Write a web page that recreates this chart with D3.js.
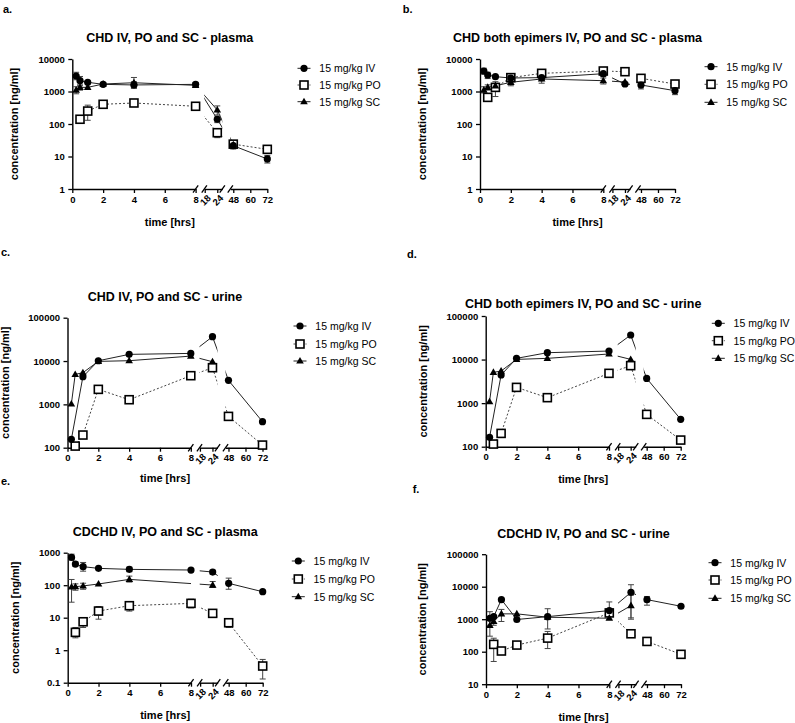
<!DOCTYPE html>
<html><head><meta charset="utf-8">
<script src="https://cdn.jsdelivr.net/npm/d3@7"></script>
<style>body{margin:0;background:#fff}</style>
</head><body>
<script>
// ---------- data ----------
const times = [0.25, 0.5, 1, 2, 4, 8, 24, 48, 72];
const xTicks1 = [0, 2, 4, 6, 8];
const xTicks2 = [18, 24];
const xTicks3 = [48, 60, 72];
const seriesNames = ["15 mg/kg IV", "15 mg/kg PO", "15 mg/kg SC"];
const panelLetters = ["a.", "b.", "c.", "d.", "e.", "f."];
const titles = ["CHD IV, PO and SC - plasma", "CHD both epimers IV, PO and SC - plasma",
  "CHD IV, PO and SC - urine", "CHD both epimers IV, PO and SC - urine",
  "CDCHD IV, PO and SC - plasma", "CDCHD IV, PO and SC - urine"];
const yTicksA = [1, 10, 100, 1000, 10000];
const yTicksB = [1, 10, 100, 1000, 10000];
const yTicksC = [100, 1000, 10000, 100000];
const yTicksD = [100, 1000, 10000, 100000];
const yTicksE = [0.1, 1, 10, 100, 1000];
const yTicksF = [10, 100, 1000, 10000, 100000];

// panel a
const aIV   = [3000, 2150, 1920, 1660, 1590, 1660, 140, 21.5, 8.4];
const aIVlo = [2300, 1500, 1700, 1450, 1250, 1450, 110, 17, 6.3];
const aIVhi = [3900, 2900, 2100, 1900, 2000, 1900, 175, 27, 10.8];
const aPO   = [null, 140, 250, 404, 443, 351, 54, 24, 16.6];
const aPOlo = [null, null, 130, 370, 400, 300, 38, 19, 14];
const aPOhi = [null, null, 380, 440, 490, 400, 68, 27, 19];
const aSC   = [1110, 1340, 1340, 1700, 1860, 1550, 270, 23, null];
const aSClo = [850, 1100, null, 1500, 1300, 1400, 190, null, null];
const aSChi = [1400, 1600, null, 1900, 2700, 1700, 360, null, null];
// panel b
const bIV   = [4270, 3220, 2860, 2600, 2670, 3530, 1700, 1585, 1060];
const bIVlo = [3400, 2500, null, null, null, 2900, null, 1200, 800];
const bIVhi = [5200, 3900, null, null, null, 4300, null, 2100, 1350];
const bPO   = [null, 660, 1340, 2670, 3620, 4270, 4070, 2540, 1700];
const bPOlo = [null, 550, 700, 2300, 3200, 3600, null, null, null];
const bPOhi = [null, 800, 2000, 3000, 4000, 4800, null, null, null];
const bSC   = [1110, 1340, 1500, 1920, 2430, 2150, 1950, null, null];
const bSClo = [900, 1100, null, 1500, 1800, 1700, null, null, null];
const bSChi = [1400, 1600, null, 2200, 3300, 2600, null, null, null];
// panel c
const cIV = [156, null, 4340, 10150, 14250, 15000, 36500, 3580, 398];
const cPO = [null, 109, 196, 2220, 1280, 4590, 7020, 528, 115];
const cSC = [1020, 4920, 5380, 9820, 10180, 13000, 9650, null, null];
// panel d
const dIV = [164, null, 4420, 10660, 14380, 15700, 36600, 3700, 425];
const dPO = [null, 115, 202, 2300, 1335, 4830, 7250, 552, 142];
const dSC = [1080, 5090, 5460, 10100, 10660, 13430, 10100, null, null];
// panel e
const eIV   = [718, 448, 371, 330, 307, 293, 254, 114, 63];
const eIVlo = [600, 380, 270, null, 260, 260, 220, 75, null];
const eIVhi = [900, 520, 500, null, 360, 330, 290, 165, null];
const ePO   = [null, 3.54, 7.5, 16, 23.4, 27.6, 13.6, 7, 0.326];
const ePOlo = [null, 2.4, 5, 9, 16, 20, 11, 5, 0.13];
const ePOhi = [null, 5, 10, 22, 30, 37, 17, 9, 0.52];
const eSC   = [88, 90, 95, 109, 151, null, 101, null, null];
const eSClo = [30, 70, 75, null, 125, null, 85, null, null];
const eSChi = [150, 110, 115, null, 190, null, 130, null, null];
// panel f
const fIV   = [1070, 1210, 4000, 980, 1200, 1840, 6700, 4000, 2500];
const fIVlo = [650, null, null, null, 500, 1000, 1100, 2700, null];
const fIVhi = [1700, null, null, null, 2100, 3400, 11500, 5000, null];
const fPO   = [null, 168, 105, 160, 262, 1560, 356, 207, 83];
const fPOlo = [null, 50, null, null, 125, null, null, null, null];
const fPOhi = [null, 260, null, null, 420, null, null, null, null];
const fSC   = [640, 850, 1460, 1460, 1150, 1070, 2620, null, null];
const fSClo = [300, 650, 850, null, null, null, 1000, null, null];
const fSChi = [1000, 1100, 2000, null, null, null, 5500, null, null];

// ---------- layout (positions only) ----------
const geo = [
  {x0: 72.3, top: 59, bot: 189, letter: [3, 13.3], titleY: 42.3, ylabX: 18, xlabY: 225.7, legX: 304, legY: [68.3, 85, 101.7]},
  {x0: 480, top: 59, bot: 189, letter: [402.7, 13.3], titleY: 42.3, ylabX: 425.5, xlabY: 225.7, legX: 711, legY: [66.7, 84.3, 102.3]},
  {x0: 67.5, top: 317.7, bot: 447.7, letter: [1, 256], titleY: 300.5, ylabX: 9, xlabY: 482.3, legX: 300, legY: [326, 344, 361]},
  {x0: 485.7, top: 316, bot: 446.7, letter: [407, 258], titleY: 307.8, ylabX: 427, xlabY: 483, legX: 718.3, legY: [323.3, 340.7, 358.3]},
  {x0: 67.7, top: 552.7, bot: 682.7, letter: [1, 484.5], titleY: 536.2, ylabX: 18.5, xlabY: 719, legX: 298.3, legY: [561, 579, 596.7]},
  {x0: 486, top: 554.2, bot: 684.2, letter: [412.7, 493], titleY: 537.8, ylabX: 426, xlabY: 721.3, legX: 715, legY: [562.7, 580, 598.3]}
];

const panels = [
  {yTicks: yTicksA, IV: [aIV, aIVlo, aIVhi], PO: [aPO, aPOlo, aPOhi], SC: [aSC, aSClo, aSChi]},
  {yTicks: yTicksB, IV: [bIV, bIVlo, bIVhi], PO: [bPO, bPOlo, bPOhi], SC: [bSC, bSClo, bSChi]},
  {yTicks: yTicksC, IV: [cIV], PO: [cPO], SC: [cSC]},
  {yTicks: yTicksD, IV: [dIV], PO: [dPO], SC: [dSC]},
  {yTicks: yTicksE, IV: [eIV, eIVlo, eIVhi], PO: [ePO, ePOlo, ePOhi], SC: [eSC, eSClo, eSChi]},
  {yTicks: yTicksF, IV: [fIV, fIVlo, fIVhi], PO: [fPO, fPOlo, fPOhi], SC: [fSC, fSClo, fSChi]}
];

const FONT = "'Liberation Sans', Arial, Helvetica, sans-serif";
const svg = d3.select("body").append("svg").attr("width", 795).attr("height", 723)
  .style("font-family", FONT);
const defs = svg.append("defs");

function marker(sel, type, cx, cy) {
  if (type === "IV") sel.append("circle").attr("cx", cx).attr("cy", cy).attr("r", 3.6).attr("fill", "#000");
  else if (type === "PO") sel.append("rect").attr("x", cx - 4).attr("y", cy - 4).attr("width", 8).attr("height", 8)
    .attr("fill", "#fff").attr("stroke", "#000").attr("stroke-width", 1.6);
  else sel.append("path").attr("d", `M${cx},${cy - 4}L${cx + 3.8},${cy + 2.6}L${cx - 3.8},${cy + 2.6}Z`).attr("fill", "#000");
}
function styleAxis(a) {
  a.selectAll(".domain").attr("stroke", "#000").attr("stroke-width", 1.4);
  a.selectAll(".tick line").attr("stroke", "#000").attr("stroke-width", 1.3);
  a.selectAll("text").attr("fill", "#000").style("font-size", "9.5px").style("font-weight", "bold").style("font-family", FONT);
}

panels.forEach((p, i) => {
  const G = geo[i];
  const {x0, top, bot} = G;
  const g = svg.append("g");
  const s1 = d3.scaleLinear().domain([0, 8]).range([x0, x0 + 123.3]);
  const s2 = d3.scaleLinear().domain([17.8, 26.4]).range([x0 + 132, x0 + 150]);
  const s3 = d3.scaleLinear().domain([45.9, 72]).range([x0 + 158, x0 + 195]);
  const x = t => t <= 8 ? s1(t) : (t <= 30 ? s2(t) : s3(t));
  const yd = d3.extent(p.yTicks);
  const y = d3.scaleLog().domain(yd).range([bot, top]);

  // clip for lines (broken axis)
  const cid = "clip" + i;
  const cp = defs.append("clipPath").attr("id", cid);
  [[x0 - 10, s1.range()[1]], [s2.range()[0], s2.range()[1]], [s3.range()[0], x0 + 205]].forEach(([a, b]) =>
    cp.append("rect").attr("x", a).attr("y", top - 40).attr("width", b - a).attr("height", bot - top + 80));

  // axes
  const ya = g.append("g").attr("transform", `translate(${x0},0)`)
    .call(d3.axisLeft(y).tickValues(p.yTicks).tickFormat(d => String(d)).tickSize(4).tickSizeOuter(0).tickPadding(3.5));
  styleAxis(ya);
  [[s1, xTicks1], [s2, xTicks2], [s3, xTicks3]].forEach(([s, tv], k) => {
    const xa = g.append("g").attr("transform", `translate(0,${bot})`)
      .call(d3.axisBottom(s).tickValues(tv).tickFormat(d => String(d)).tickSize(4).tickSizeOuter(0).tickPadding(3));
    styleAxis(xa);
    if (k === 1) {
      xa.selectAll("text").attr("y", 0).attr("dy", null).attr("x", 0)
        .attr("dominant-baseline", "central").attr("text-anchor", "middle")
        .attr("transform", "translate(0,11) rotate(-45)");
    }
  });
  // break marks
  [s1.range()[1], s2.range()[0], s2.range()[1], s3.range()[0]].forEach(xb =>
    g.append("line").attr("x1", xb - 2.6).attr("y1", bot + 3.6).attr("x2", xb + 2.6).attr("y2", bot - 3.6)
      .attr("stroke", "#000").attr("stroke-width", 1.3));

  // series
  const order = ["PO", "SC", "IV"];
  const lineG = g.append("g").attr("clip-path", `url(#${cid})`);
  const errG = g.append("g");
  const mkG = g.append("g");
  order.forEach(key => {
    const [vals, lo, hi] = p[key];
    const pts = times.map((t, j) => ({t, v: vals[j], lo: lo ? lo[j] : null, hi: hi ? hi[j] : null})).filter(d => d.v != null);
    const ln = d3.line().x(d => x(d.t)).y(d => y(d.v));
    lineG.append("path").attr("d", ln(pts)).attr("fill", "none")
      .attr("stroke", key === "PO" ? "#444" : "#222").attr("stroke-width", 1)
      .attr("stroke-dasharray", key === "PO" ? "2,2" : null);
    pts.forEach(d => {
      if (d.lo != null && d.hi != null) {
        const cx = x(d.t);
        errG.append("line").attr("x1", cx).attr("x2", cx).attr("y1", y(d.lo)).attr("y2", y(d.hi)).attr("stroke", "#444").attr("stroke-width", 1);
        [d.lo, d.hi].forEach(v => errG.append("line").attr("x1", cx - 3).attr("x2", cx + 3).attr("y1", y(v)).attr("y2", y(v)).attr("stroke", "#444").attr("stroke-width", 1));
      }
      marker(mkG, key, x(d.t), y(d.v));
    });
  });

  // texts
  const cx = (x0 + s3.range()[1]) / 2;
  g.append("text").attr("x", cx).attr("y", G.titleY).attr("text-anchor", "middle")
    .style("font-size", "12.5px").style("font-weight", "bold").text(titles[i]);
  g.append("text").attr("x", cx).attr("y", G.xlabY).attr("text-anchor", "middle")
    .style("font-size", "11px").style("font-weight", "bold").text("time [hrs]");
  g.append("text").attr("transform", `translate(${G.ylabX},${(top + bot) / 2}) rotate(-90)`).attr("text-anchor", "middle")
    .style("font-size", "11px").style("font-weight", "bold").text("concentration [ng/ml]");
  g.append("text").attr("x", G.letter[0]).attr("y", G.letter[1])
    .style("font-size", "11px").style("font-weight", "bold").text(panelLetters[i]);

  // legend
  ["IV", "PO", "SC"].forEach((key, k) => {
    const ly = G.legY[k];
    g.append("line").attr("x1", G.legX - 6.5).attr("x2", G.legX + 6.5).attr("y1", ly).attr("y2", ly)
      .attr("stroke", key === "PO" ? "#444" : "#222").attr("stroke-width", 1)
      .attr("stroke-dasharray", key === "PO" ? "2,2" : null);
    marker(g, key, G.legX, ly);
    g.append("text").attr("x", G.legX + 15.3).attr("y", ly + 3.8).style("font-size", "10.5px").text(seriesNames[k]);
  });
});
</script>
</body></html>
